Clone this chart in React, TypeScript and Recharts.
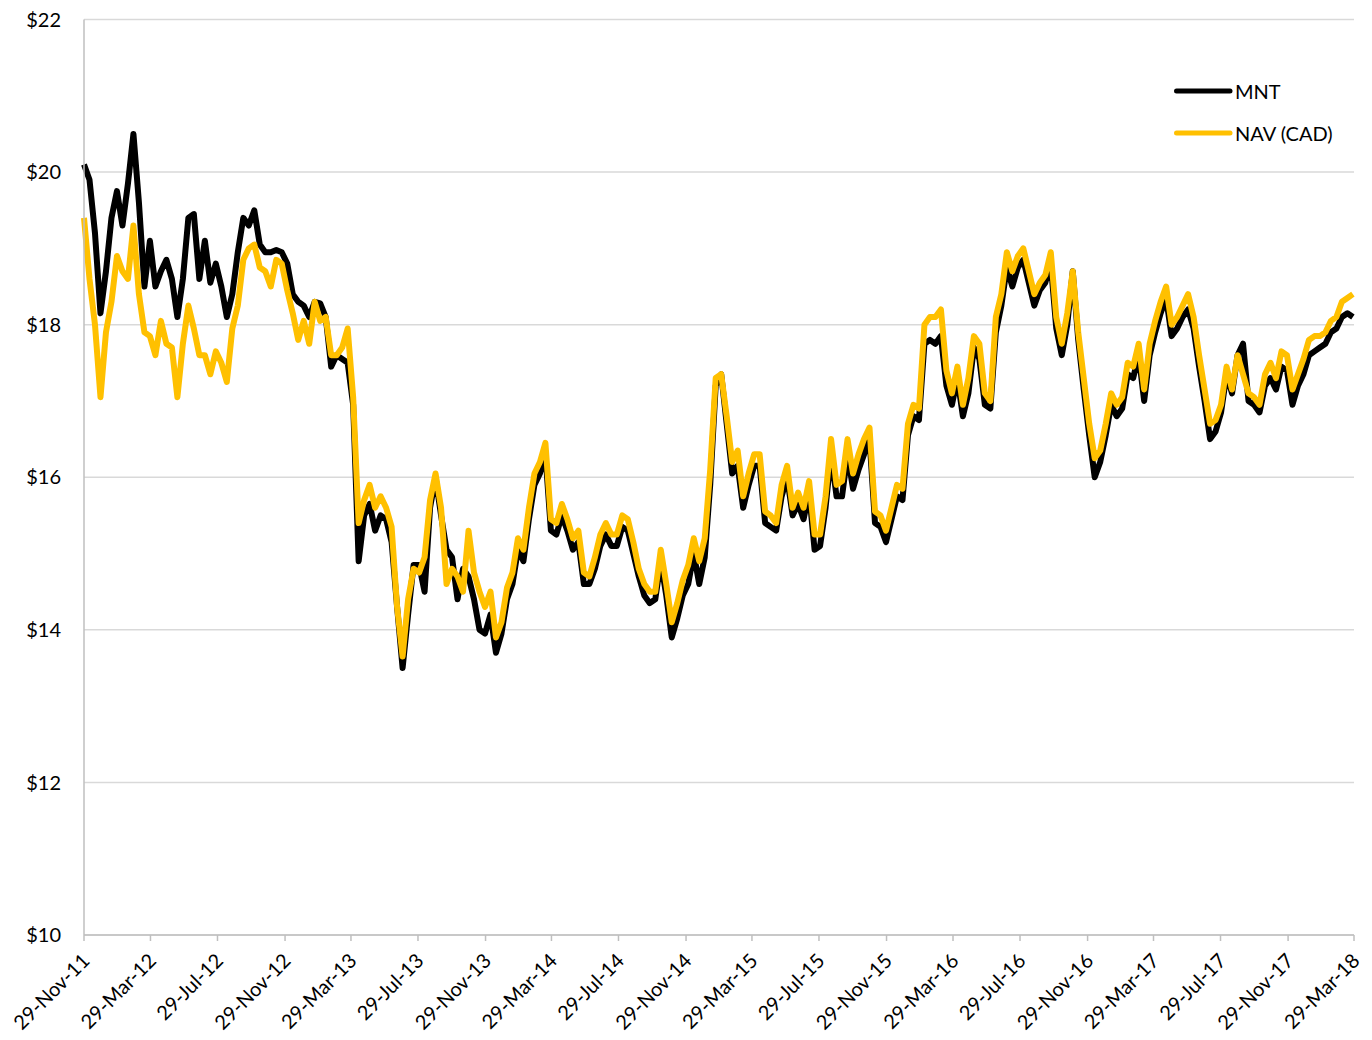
import React from 'react';
import { LineChart, Line, XAxis, YAxis, CartesianGrid, Legend } from 'recharts';

// price samples every 10 days starting 29-Nov-2011
const startDate = '2011-11-29';
const stepDays = 10;

const mntPrices = [
  20.1, 19.9, 19.2, 18.15, 18.7, 19.4, 19.75, 19.3, 19.85, 20.5,
  19.6, 18.5, 19.1, 18.5, 18.7, 18.85, 18.6, 18.1, 18.6, 19.4,
  19.45, 18.6, 19.1, 18.55, 18.8, 18.5, 18.1, 18.4, 18.95, 19.4,
  19.3, 19.5, 19.05, 18.95, 18.95, 18.98, 18.95, 18.8, 18.4, 18.3,
  18.25, 18.1, 18.3, 18.28, 18.1, 17.45, 17.6, 17.55, 17.5, 16.95,
  14.9, 15.5, 15.65, 15.3, 15.5, 15.45, 15.15, 14.3, 13.5, 14.2,
  14.85, 14.85, 14.5, 15.6, 16.0, 15.5, 15.05, 14.95, 14.4, 14.8,
  14.7, 14.4, 14.0, 13.95, 14.2, 13.7, 13.95, 14.4, 14.6, 15.05,
  14.9, 15.45, 15.9, 16.05, 16.3, 15.3, 15.25, 15.5, 15.3, 15.05,
  15.15, 14.6, 14.6, 14.8, 15.1, 15.25, 15.1, 15.1, 15.35, 15.3,
  15.0, 14.7, 14.45, 14.35, 14.4, 14.9, 14.45, 13.9, 14.15, 14.45,
  14.6, 15.0, 14.6, 14.95, 15.9, 17.2, 17.35, 16.7, 16.05, 16.15,
  15.6, 15.9, 16.15, 16.15, 15.4, 15.35, 15.3, 15.75, 16.0, 15.5,
  15.65, 15.45, 15.8, 15.05, 15.1, 15.6, 16.3, 15.75, 15.75, 16.3,
  15.85, 16.1, 16.3, 16.5, 15.4, 15.35, 15.15, 15.45, 15.75, 15.7,
  16.55, 16.8, 16.75, 17.75, 17.8, 17.75, 17.85, 17.2, 16.95, 17.3,
  16.8, 17.1, 17.7, 17.55, 16.95, 16.9, 17.9, 18.25, 18.75, 18.5,
  18.75, 18.85, 18.55, 18.25, 18.45, 18.55, 18.8, 17.95, 17.6, 18.0,
  18.7, 17.8, 17.15, 16.55, 16.0, 16.2, 16.55, 16.95, 16.8, 16.9,
  17.35, 17.3, 17.6, 17.0, 17.6, 17.9, 18.15, 18.35, 17.85, 17.95,
  18.1, 18.2, 17.95, 17.45, 17.0, 16.5, 16.6, 16.85, 17.35, 17.1,
  17.6, 17.75, 17.0, 16.95, 16.85, 17.2, 17.3, 17.15, 17.45, 17.4,
  16.95, 17.2, 17.35, 17.6, 17.65, 17.7, 17.75, 17.9, 17.95, 18.1,
  18.15, 18.1,
];

const navPrices = [
  19.4, 18.6, 18.0, 17.05, 17.9, 18.3, 18.9, 18.7, 18.6, 19.3,
  18.4, 17.9, 17.85, 17.6, 18.05, 17.75, 17.7, 17.05, 17.75, 18.25,
  17.95, 17.6, 17.6, 17.35, 17.65, 17.5, 17.25, 17.95, 18.25, 18.85,
  19.0, 19.05, 18.75, 18.7, 18.5, 18.85, 18.8, 18.45, 18.15, 17.8,
  18.05, 17.75, 18.3, 18.05, 18.1, 17.6, 17.6, 17.7, 17.95, 17.05,
  15.4, 15.7, 15.9, 15.6, 15.75, 15.6, 15.35, 14.3, 13.65, 14.4,
  14.8, 14.75, 14.95, 15.7, 16.05, 15.6, 14.6, 14.8, 14.7, 14.5,
  15.3, 14.75, 14.5, 14.3, 14.5, 13.9, 14.1, 14.55, 14.75, 15.2,
  15.05, 15.6, 16.05, 16.2, 16.45, 15.45, 15.4, 15.65, 15.45, 15.2,
  15.3, 14.75, 14.7, 14.95, 15.25, 15.4, 15.25, 15.25, 15.5, 15.45,
  15.15, 14.8, 14.6, 14.5, 14.5, 15.05, 14.6, 14.1, 14.35, 14.65,
  14.85, 15.2, 14.9, 15.2, 16.1, 17.3, 17.35, 16.8, 16.2, 16.35,
  15.75, 16.05, 16.3, 16.3, 15.55, 15.5, 15.4, 15.9, 16.15, 15.6,
  15.8, 15.6, 15.95, 15.25, 15.25, 15.75, 16.5, 15.9, 15.95, 16.5,
  16.05, 16.3, 16.5, 16.65, 15.55, 15.5, 15.3, 15.6, 15.9, 15.85,
  16.7, 16.95, 16.9, 18.0, 18.1, 18.1, 18.2, 17.4, 17.1, 17.45,
  16.95, 17.3, 17.85, 17.75, 17.1, 17.0, 18.1, 18.4, 18.95, 18.7,
  18.9, 19.0, 18.7, 18.4, 18.55, 18.65, 18.95, 18.1, 17.75, 18.15,
  18.7, 17.9, 17.3, 16.7, 16.25, 16.35, 16.7, 17.1, 16.95, 17.05,
  17.5, 17.45, 17.75, 17.15, 17.75, 18.05, 18.3, 18.5, 18.0, 18.1,
  18.25, 18.4, 18.1, 17.6, 17.15, 16.7, 16.75, 16.95, 17.45, 17.15,
  17.6, 17.35, 17.1, 17.05, 16.95, 17.35, 17.5, 17.3, 17.65, 17.6,
  17.15, 17.35, 17.55, 17.8, 17.85, 17.85, 17.9, 18.05, 18.1, 18.3,
  18.35, 18.4,
];

const tickDates = [
  '2011-11-29', '2012-03-29', '2012-07-29', '2012-11-29', '2013-03-29',
  '2013-07-29', '2013-11-29', '2014-03-29', '2014-07-29', '2014-11-29',
  '2015-03-29', '2015-07-29', '2015-11-29', '2016-03-29', '2016-07-29',
  '2016-11-29', '2017-03-29', '2017-07-29', '2017-11-29', '2018-03-29',
];
const tickLabels = [
  '29-Nov-11', '29-Mar-12', '29-Jul-12', '29-Nov-12', '29-Mar-13',
  '29-Jul-13', '29-Nov-13', '29-Mar-14', '29-Jul-14', '29-Nov-14',
  '29-Mar-15', '29-Jul-15', '29-Nov-15', '29-Mar-16', '29-Jul-16',
  '29-Nov-16', '29-Mar-17', '29-Jul-17', '29-Nov-17', '29-Mar-18',
];
const yTicks = [10, 12, 14, 16, 18, 20, 22];

const series = [
  { key: 'mnt', name: 'MNT', color: '#000000' },
  { key: 'nav', name: 'NAV (CAD)', color: '#FFC000' },
];

const FONT = "Lato, 'Open Sans', sans-serif";
const DAY_MS = 86400000;
const t0 = Date.parse(startDate);
const tickDays = tickDates.map(d => Math.round((Date.parse(d) - t0) / DAY_MS));

const data = mntPrices.map((v, i) => ({ day: i * stepDays, mnt: v, nav: navPrices[i] }));

const DateTick = (props: any) => {
  const { x, y, payload } = props;
  const idx = tickDays.indexOf(payload.value);
  return (
    <text
      transform={`translate(${x + 7}, ${y + 19}) rotate(-45)`}
      textAnchor="end"
      fontFamily={FONT}
      fontSize={20}
      fill="#000"
    >
      {idx >= 0 ? tickLabels[idx] : ''}
    </text>
  );
};

const renderLegend = () => (
  <div style={{ fontFamily: FONT, fontSize: 20, color: '#000' }}>
    {series.map(s => (
      <div key={s.key} style={{ display: 'flex', alignItems: 'center', height: 42 }}>
        <svg width={60} height={10}>
          <line x1={3.5} y1={5} x2={57} y2={5} stroke={s.color} strokeWidth={5} strokeLinecap="round" />
        </svg>
        <span style={{ marginLeft: 2 }}>{s.name}</span>
      </div>
    ))}
  </div>
);

export default function App() {
  return (
    <div style={{ width: 1364, height: 1032 }}>
      <LineChart
        width={1364}
        height={1032}
        data={data}
        margin={{ top: 11.5, right: 18, left: 0, bottom: 0 }}
        style={{ overflow: 'visible' }}
      >
        <CartesianGrid vertical={false} stroke="#d9d9d9" strokeWidth={1.5} />
        <XAxis
          dataKey="day"
          type="number"
          domain={[0, tickDays[tickDays.length - 1]]}
          ticks={tickDays}
          interval={0}
          height={105}
          tickSize={6}
          stroke="#bfbfbf"
          axisLine={{ stroke: '#bfbfbf', strokeWidth: 1.5 }}
          tickLine={{ stroke: '#bfbfbf', strokeWidth: 1.5 }}
          tick={<DateTick />}
        />
        <YAxis
          type="number"
          domain={[10, 22]}
          ticks={yTicks}
          width={76}
          tickSize={0}
          tickMargin={23}
          axisLine={{ stroke: '#bfbfbf', strokeWidth: 1.5 }}
          tickLine={false}
          tick={{ fontFamily: FONT, fontSize: 20, fill: '#000' }}
          tickFormatter={(v: number) => `$${v}`}
        />
        <Legend
          layout="vertical"
          align="center"
          verticalAlign="middle"
          content={renderLegend}
          wrapperStyle={{ top: 61.5, left: 1165, width: 'auto' }}
        />
        {series.map(s => (
          <Line
            key={s.key}
            type="linear"
            dataKey={s.key}
            name={s.name}
            stroke={s.color}
            strokeWidth={6}
            strokeLinejoin="round"
            dot={false}
            activeDot={false}
            isAnimationActive={false}
          />
        ))}
      </LineChart>
    </div>
  );
}
